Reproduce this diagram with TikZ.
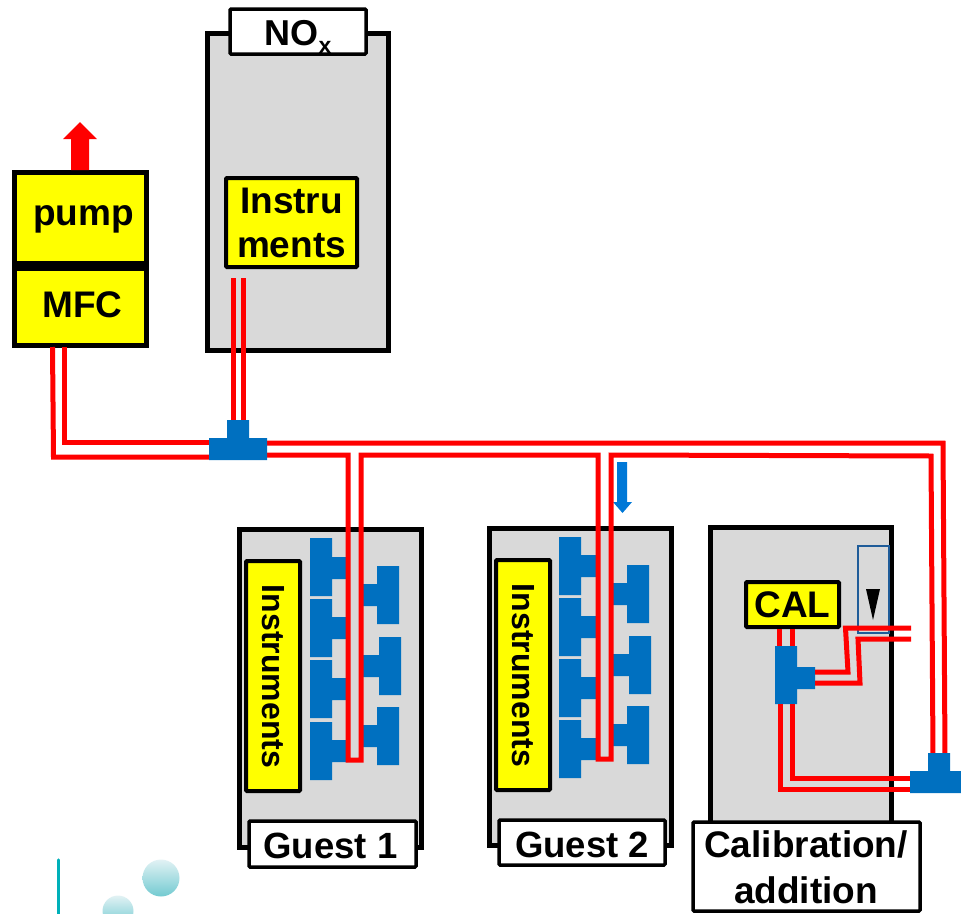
\documentclass[tikz,border=0pt]{standalone}
\usepackage{fontspec}
\setmainfont{Liberation Sans}
\definecolor{boxgray}{HTML}{D9D9D9}
\definecolor{fitblue}{HTML}{0070C0}
\definecolor{arrowblue}{HTML}{0078D7}
\definecolor{tubered}{HTML}{FF0000}
\definecolor{meteryel}{HTML}{FFFF00}
\definecolor{rimblue}{HTML}{1F5C99}
\definecolor{tealline}{HTML}{00B0B9}
\definecolor{balllight}{HTML}{E2F2F4}
\definecolor{balldark}{HTML}{72CAD1}
\tikzset{
  rack/.style={draw=black,fill=boxgray,line width=5pt},
  unit/.style={draw=black,fill=meteryel,line width=5pt},
  instr/.style={draw=black,fill=meteryel,line width=4pt,rounded corners=1pt,font=\bfseries\fontsize{37}{44}\selectfont,align=center},
  tag/.style={draw=black,fill=white,line width=3.5pt,rounded corners=1pt},
  lab/.style={font=\bfseries\fontsize{37}{44}\selectfont,inner sep=0pt,anchor=base},
  vtext/.style={font=\bfseries\fontsize{32}{32}\selectfont,rotate=-90,inner sep=0pt},
  tube/.style={draw=tubered,line width=5pt,line join=miter},
  fitting/.style={fill=fitblue},
  ball/.style={shading=axis,shading angle=-45,top color=balllight,bottom color=balldark},
}
% name, x1, y1, x2, y2 (centre line of the outline), style, text
\newcommand{\pxbox}[7]{%
  \pgfmathsetmacro{\cxa}{(#2+#4)/2}\pgfmathsetmacro{\cya}{(#3+#5)/2}%
  \pgfmathsetmacro{\wxa}{#4-#2}\pgfmathsetmacro{\hxa}{#5-#3}%
  \node[#6,inner sep=0pt,outer sep=0pt,minimum width=\wxa pt,minimum height=\hxa pt] (#1) at (\cxa,\cya) {#7};}
% T fitting with the stem on the right: barx1 barx2 y1 y2 stemy1 stemy2 stemx
\newcommand{\teeright}[7]{\fill[fitting] (#1,#3) -- (#2,#3) -- (#2,#5) -- (#7,#5) -- (#7,#6) -- (#2,#6) -- (#2,#4) -- (#1,#4) -- cycle;}
% T fitting with the stem on the left: barx1 barx2 y1 y2 stemy1 stemy2 stemx
\newcommand{\teeleft}[7]{\fill[fitting] (#1,#3) -- (#2,#3) -- (#2,#4) -- (#1,#4) -- (#1,#6) -- (#7,#6) -- (#7,#5) -- (#1,#5) -- cycle;}
% T fitting with the stem on top: barx1 barx2 bary1 bary2 stemx1 stemx2 stemy
\newcommand{\teeup}[7]{\fill[fitting] (#1,#3) -- (#5,#3) -- (#5,#7) -- (#6,#7) -- (#6,#3) -- (#2,#3) -- (#2,#4) -- (#1,#4) -- cycle;}
\begin{document}
\begin{tikzpicture}[x=1pt,y=-1pt]
\useasboundingbox (0,0) rectangle (961,913);
% logo remains
\begin{scope}
\clip (0,0) rectangle (961,913);
\draw[tealline,line width=3.5pt,line cap=round] (58.5,860) -- (58.5,920);
\shade[ball] (161,878) circle (18.5);
\shade[ball] (118,911) circle (15.5);
\end{scope}
% racks
\pxbox{noxrack}{207.5}{33.5}{388.5}{350.5}{rack}{}
\pxbox{guestonerack}{239.5}{529.5}{421.5}{847}{rack}{}
\pxbox{guesttworack}{489.5}{528.5}{671}{845.5}{rack}{}
\pxbox{calrack}{710.5}{527.5}{891.5}{835}{rack}{}
% labels on racks
\pxbox{noxtag}{230}{9}{366}{54}{tag}{}
\node[lab,font=\bfseries\fontsize{36}{44}\selectfont] (noxtext) at (298,45) {NO\raisebox{-8pt}{\fontsize{23}{24}\selectfont x}};
\pxbox{guestonetag}{249}{821}{416}{867}{tag}{}
\node[lab,font=\bfseries\fontsize{36.5}{44}\selectfont] (guestonelabel) at (330.5,858) {Guest 1};
\pxbox{guesttwotag}{499}{820}{665}{865}{tag}{}
\node[lab,font=\bfseries\fontsize{36.5}{44}\selectfont] (guesttwolabel) at (582,857) {Guest 2};
\pxbox{caltag}{693}{822}{920}{911}{tag}{}
\node[font=\bfseries\fontsize{37}{46}\selectfont,align=center,inner sep=0pt,anchor=base] (caltext) at (806,903) {Calibration/\\addition};
% meters
\pxbox{pump}{14.5}{172.5}{146.5}{263.5}{unit}{}
\node[lab] (pumptext) at (83.5,225) {pump};
\pxbox{mfc}{14.5}{268.5}{146.5}{345}{unit}{}
\node[lab] (mfctext) at (82.5,317) {MFC};
\pxbox{noxinstr}{226}{178}{357}{267}{instr}{Instru\\ments}
\pxbox{guestoneinstr}{246}{561}{300}{791}{instr}{}
\node[vtext] (guestonetext) at (273,676.5) {Instruments};
\pxbox{guesttwoinstr}{496}{560}{550}{790}{instr}{}
\node[vtext] (guesttwotext) at (523,675.5) {Instruments};
\pxbox{cal}{746}{582}{839}{627}{instr}{CAL}
% exhaust arrow and flow arrow
\fill[tubered] (71,170) -- (71,139) -- (63,139) -- (80,122) -- (97,139) -- (89,139) -- (89,170) -- cycle;
\fill[arrowblue] (617,462) -- (627,462) -- (627,502) -- (632,502) -- (622.5,513) -- (613,502) -- (617,502) -- cycle;
% named tube ports
\coordinate (mainTlow) at (215,457);
\coordinate (mainThigh) at (215,442);
\coordinate (mainTa) at (233,430);
\coordinate (mainTb) at (243,430);
% rotameter tube
\draw[rimblue,line width=2pt] (857.5,546) rectangle (888.5,633);
\fill[black] (866,589) -- (880,589) -- (873,620) -- cycle;
% fittings, guest 1
\teeright{310}{332}{538}{596}{557}{579}{348}
\teeright{310}{332}{599}{657}{617}{639}{348}
\teeright{310}{332}{660}{718}{678}{700}{348}
\teeright{310}{332}{722}{780}{740}{762}{348}
\teeleft{377}{399}{566}{624}{584}{606}{361}
\teeleft{379}{401}{637}{695}{655}{677}{361}
\teeleft{377}{399}{707}{765}{725}{747}{361}
% fittings, guest 2
\teeright{559}{581}{537}{595}{555}{577}{598}
\teeright{559}{581}{598}{656}{616}{638}{598}
\teeright{559}{581}{659}{717}{677}{699}{598}
\teeright{559}{581}{720}{778}{738}{760}{598}
\teeleft{627}{649}{565}{623}{583}{605}{611}
\teeleft{629}{651}{636}{694}{654}{676}{611}
\teeleft{627}{649}{706}{764}{724}{746}{611}
% fitting, calibration
\teeright{775}{797}{646}{704}{667}{689}{815}
% tubes
\draw[tube] (52.5,347) -- (53.5,457) -- (mainTlow);
\draw[tube] (64.5,347) -- (64.5,442) -- (mainThigh);
\draw[tube] (233,278) -- (mainTa);
\draw[tube] (243,278) -- (mainTb);
\draw[tube] (267,443) -- (943,443) -- (945,755);
\draw[tube] (267,455) -- (348,455) -- (348,760) -- (361,760) -- (361,455) -- (598,455) -- (598,759) -- (611,759) -- (611,455) -- (931,456) -- (933,755);
\draw[tube] (779,629) -- (779,646);
\draw[tube] (792,629) -- (792,646);
\draw[tube] (815,672) -- (848,672) -- (845.5,628) -- (911,628);
\draw[tube] (815,683) -- (860,683) -- (858,639) -- (911,639);
\draw[tube] (780,704) -- (780,789) -- (910,789);
\draw[tube] (792,704) -- (792,778) -- (910,778);
% main fittings over the tubes
\teeup{209}{267}{438}{460}{227}{249}{420}
\teeup{910}{961}{771}{793}{928}{950}{753}
\end{tikzpicture}
\end{document}
